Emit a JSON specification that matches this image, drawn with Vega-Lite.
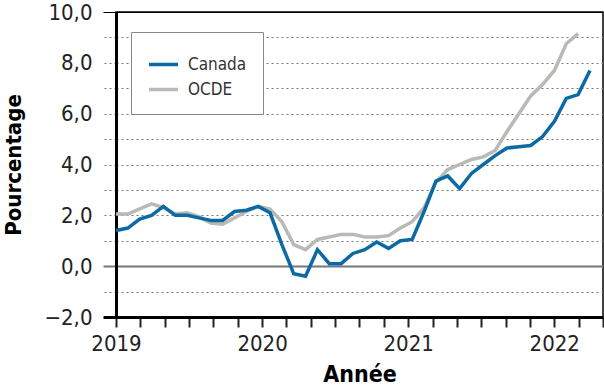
{
  "$schema": "https://vega.github.io/schema/vega-lite/v6.json",
  "width": 487,
  "height": 305,
  "autosize": "none",
  "padding": {"left": 116, "top": 12, "right": 1, "bottom": 70},
  "background": "white",
  "config": {
    "view": {"stroke": "#000", "strokeWidth": 1.5},
    "font": "DejaVu Sans Condensed, Roboto, sans-serif"
  },
  "data": {
    "values": [
      {"t": 0, "date": "2019-01", "Canada": 1.4, "OCDE": 2.05},
      {"t": 1, "date": "2019-02", "Canada": 1.5, "OCDE": 2.05},
      {"t": 2, "date": "2019-03", "Canada": 1.85, "OCDE": 2.25},
      {"t": 3, "date": "2019-04", "Canada": 2.0, "OCDE": 2.45},
      {"t": 4, "date": "2019-05", "Canada": 2.35, "OCDE": 2.3},
      {"t": 5, "date": "2019-06", "Canada": 2.0, "OCDE": 2.05},
      {"t": 6, "date": "2019-07", "Canada": 2.0, "OCDE": 2.1},
      {"t": 7, "date": "2019-08", "Canada": 1.9, "OCDE": 1.95},
      {"t": 8, "date": "2019-09", "Canada": 1.8, "OCDE": 1.7},
      {"t": 9, "date": "2019-10", "Canada": 1.8, "OCDE": 1.65},
      {"t": 10, "date": "2019-11", "Canada": 2.15, "OCDE": 1.9},
      {"t": 11, "date": "2019-12", "Canada": 2.2, "OCDE": 2.15},
      {"t": 12, "date": "2020-01", "Canada": 2.35, "OCDE": 2.35},
      {"t": 13, "date": "2020-02", "Canada": 2.1, "OCDE": 2.25},
      {"t": 14, "date": "2020-03", "Canada": 0.85, "OCDE": 1.75},
      {"t": 15, "date": "2020-04", "Canada": -0.3, "OCDE": 0.85},
      {"t": 16, "date": "2020-05", "Canada": -0.4, "OCDE": 0.65},
      {"t": 17, "date": "2020-06", "Canada": 0.65, "OCDE": 1.05},
      {"t": 18, "date": "2020-07", "Canada": 0.1, "OCDE": 1.15},
      {"t": 19, "date": "2020-08", "Canada": 0.1, "OCDE": 1.25},
      {"t": 20, "date": "2020-09", "Canada": 0.5, "OCDE": 1.25},
      {"t": 21, "date": "2020-10", "Canada": 0.65, "OCDE": 1.15},
      {"t": 22, "date": "2020-11", "Canada": 0.95, "OCDE": 1.15},
      {"t": 23, "date": "2020-12", "Canada": 0.7, "OCDE": 1.2},
      {"t": 24, "date": "2021-01", "Canada": 1.0, "OCDE": 1.5},
      {"t": 25, "date": "2021-02", "Canada": 1.05, "OCDE": 1.75},
      {"t": 26, "date": "2021-03", "Canada": 2.15, "OCDE": 2.3},
      {"t": 27, "date": "2021-04", "Canada": 3.35, "OCDE": 3.3},
      {"t": 28, "date": "2021-05", "Canada": 3.55, "OCDE": 3.8},
      {"t": 29, "date": "2021-06", "Canada": 3.05, "OCDE": 4.0},
      {"t": 30, "date": "2021-07", "Canada": 3.65, "OCDE": 4.2},
      {"t": 31, "date": "2021-08", "Canada": 4.0, "OCDE": 4.3},
      {"t": 32, "date": "2021-09", "Canada": 4.35, "OCDE": 4.55},
      {"t": 33, "date": "2021-10", "Canada": 4.65, "OCDE": 5.3},
      {"t": 34, "date": "2021-11", "Canada": 4.7, "OCDE": 6.0},
      {"t": 35, "date": "2021-12", "Canada": 4.75, "OCDE": 6.7},
      {"t": 36, "date": "2022-01", "Canada": 5.1, "OCDE": 7.15},
      {"t": 37, "date": "2022-02", "Canada": 5.7, "OCDE": 7.7},
      {"t": 38, "date": "2022-03", "Canada": 6.6, "OCDE": 8.75},
      {"t": 39, "date": "2022-04", "Canada": 6.75, "OCDE": 9.15},
      {"t": 40, "date": "2022-05", "Canada": 7.7, "OCDE": null}
    ]
  },
  "transform": [
    {"fold": ["Canada", "OCDE"], "as": ["serie", "valeur"]},
    {"filter": "isValid(datum.valeur)"}
  ],
  "encoding": {
    "x": {
      "field": "t",
      "type": "quantitative",
      "title": "Année",
      "scale": {"domain": [0, 41.1], "nice": false, "zero": false},
      "axis": {
        "values": [0, 2.055, 4.11, 6.165, 8.22, 10.275, 12.33, 14.384, 16.439, 18.494, 20.549, 22.604, 24.659, 26.714, 28.769, 30.824, 32.878, 34.933, 36.988, 39.043, 41.098],
        "grid": false,
        "domainColor": "#000",
        "domainWidth": 3,
        "tickColor": "#222",
        "tickWidth": 2,
        "tickSize": 10,
        "labelExpr": "round(datum.value/2.0549) % 6 === 0 ? '' + (2019 + round(datum.value/2.0549)/6) : ''",
        "labelFlush": false,
        "labelOverlap": false,
        "labelFontSize": 22,
        "labelColor": "#222",
        "labelPadding": 6,
        "titleFontSize": 23,
        "titleFontWeight": "bold",
        "titleColor": "#000",
        "titlePadding": 9
      }
    },
    "y": {
      "field": "valeur",
      "type": "quantitative",
      "title": "Pourcentage",
      "scale": {"domain": [-2, 10], "nice": false},
      "axis": {
        "values": [-2, -1, 0, 1, 2, 3, 4, 5, 6, 7, 8, 9, 10],
        "grid": true,
        "gridColor": {"condition": [{"test": "datum.value === 0", "value": "#777"}, {"test": "datum.value === 10", "value": "#000"}], "value": "#777"},
        "gridDash": {"condition": {"test": "datum.value === 0 || datum.value === 10", "value": []}, "value": [2, 3]},
        "gridWidth": {"condition": {"test": "datum.value === 0", "value": 2}, "value": 1},
        "tickSize": 13,
        "tickColor": {"condition": [{"test": "datum.value === 0", "value": "#777"}, {"test": "datum.value === 10 || datum.value === -2", "value": "#000"}], "value": "#777"},
        "tickDash": {"condition": {"test": "datum.value === 0 || datum.value === 10 || datum.value === -2", "value": []}, "value": [2, 3]},
        "tickWidth": {"condition": [{"test": "datum.value === -2", "value": 3}, {"test": "datum.value === 0", "value": 2}], "value": 1},
        "domainColor": "#000",
        "domainWidth": 3,
        "labelExpr": "datum.value % 2 === 0 ? replace(format(datum.value, '.1f'), '.', ',') : ''",
        "labelFontSize": 22,
        "labelColor": "#222",
        "labelPadding": 11,
        "titleFontSize": 22,
        "titleFontWeight": "bold",
        "titleColor": "#000",
        "titlePadding": 18
      }
    },
    "color": {
      "field": "serie",
      "type": "nominal",
      "scale": {"domain": ["Canada", "OCDE"], "range": ["#0b69a3", "#b9b9b5"]},
      "legend": {
        "title": null,
        "orient": "none",
        "legendX": 15,
        "legendY": 20,
        "fillColor": "white",
        "strokeColor": "#888",
        "padding": 16,
        "symbolType": "stroke",
        "symbolSize": 841,
        "symbolStrokeWidth": 3.5,
        "labelFontSize": 17,
        "labelColor": "#333",
        "labelOffset": 8,
        "rowPadding": 0
      }
    }
  },
  "layer": [
    {"transform": [{"filter": "datum.serie === 'OCDE'"}], "mark": {"type": "line", "strokeWidth": 3.5}},
    {"transform": [{"filter": "datum.serie === 'Canada'"}], "mark": {"type": "line", "strokeWidth": 3.5}}
  ]
}
